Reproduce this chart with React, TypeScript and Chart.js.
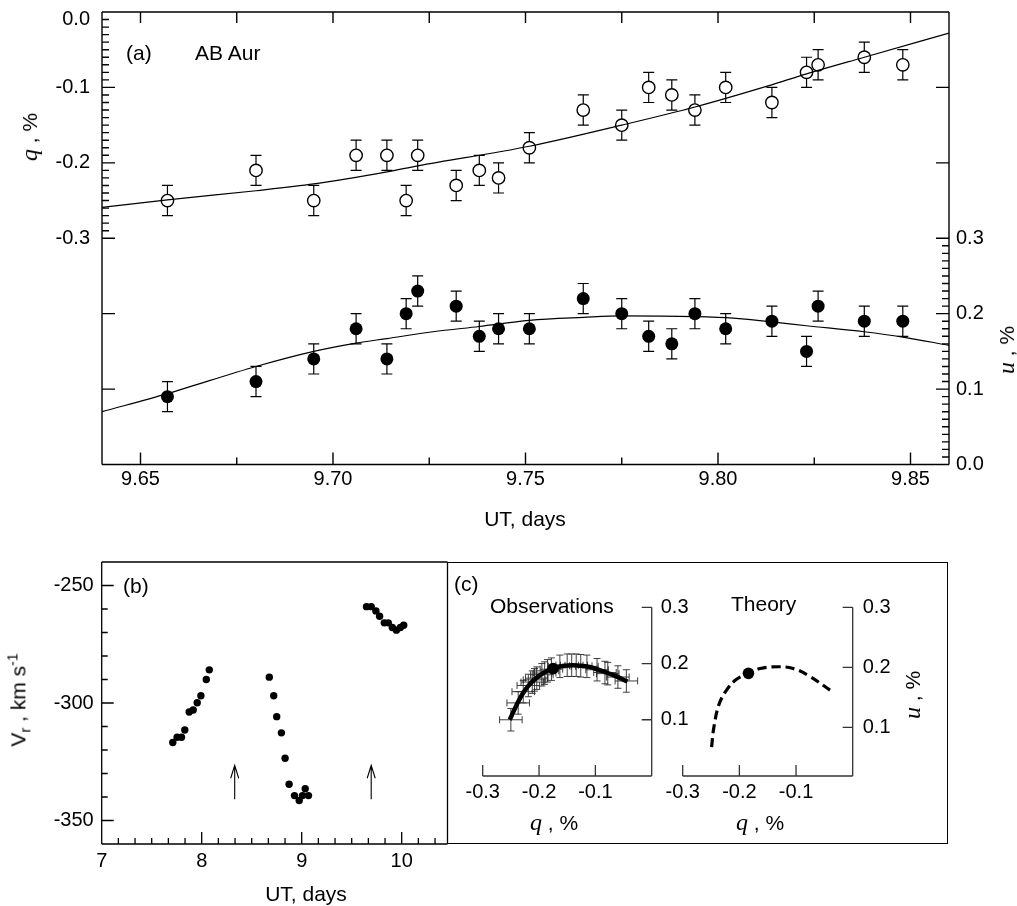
import { useEffect, useRef } from 'react';
import { Chart, registerables } from 'chart.js';
Chart.register(...registerables);

const W = 1017;
const H = 906;

// ---------------- Panel (a): AB Aur polarimetry ----------------
const obsTimes = [9.657, 9.680, 9.695, 9.706, 9.714, 9.719, 9.722, 9.732, 9.738, 9.743, 9.751, 9.765, 9.775, 9.782, 9.788, 9.794, 9.802, 9.814, 9.823, 9.826, 9.838, 9.848];
const qValues = [-0.25, -0.21, -0.25, -0.19, -0.19, -0.25, -0.19, -0.23, -0.21, -0.22, -0.18, -0.13, -0.15, -0.10, -0.11, -0.13, -0.10, -0.12, -0.08, -0.07, -0.06, -0.07];
const uValues = [0.09, 0.11, 0.14, 0.18, 0.14, 0.20, 0.23, 0.21, 0.17, 0.18, 0.18, 0.22, 0.20, 0.17, 0.16, 0.20, 0.18, 0.19, 0.15, 0.21, 0.19, 0.19];
const polError = 0.02;

const qFitTimes = [9.64, 9.657, 9.68, 9.695, 9.714, 9.722, 9.751, 9.775, 9.794, 9.813, 9.823, 9.838, 9.86];
const qFitValues = [-0.259, -0.249, -0.237, -0.228, -0.212, -0.204, -0.178, -0.150, -0.126, -0.098, -0.082, -0.060, -0.028];
const uFitTimes = [9.64, 9.657, 9.68, 9.695, 9.706, 9.714, 9.726, 9.738, 9.751, 9.765, 9.775, 9.794, 9.804, 9.814, 9.823, 9.838, 9.848, 9.86];
const uFitValues = [0.070, 0.094, 0.130, 0.150, 0.161, 0.167, 0.176, 0.183, 0.191, 0.195, 0.197, 0.196, 0.194, 0.189, 0.184, 0.176, 0.169, 0.158];

const aTimeLabels = [9.65, 9.70, 9.75, 9.80, 9.85];
const aTimeMinor = [9.675, 9.725, 9.775, 9.825];
const qLabels = [0, -0.1, -0.2, -0.3];
const uLabels = [0, 0.1, 0.2, 0.3];

// ---------------- Panel (b): radial velocity ----------------
const vrTimes = [7.711, 7.754, 7.798, 7.831, 7.875, 7.915, 7.955, 7.992, 8.046, 8.076,
  8.676, 8.72, 8.75, 8.797, 8.834, 8.874, 8.928, 8.975, 9.008, 9.035, 9.068,
  9.648, 9.695, 9.742, 9.779, 9.826, 9.866, 9.906, 9.947, 9.987, 10.02];
const vrValues = [-316.8, -314.6, -314.6, -311.5, -303.8, -303.0, -299.9, -296.9, -290.0, -285.9,
  -289.0, -296.9, -305.8, -312.7, -323.5, -334.6, -339.4, -341.5, -339.4, -336.5, -339.4,
  -259.0, -259.0, -260.8, -263.1, -265.9, -265.9, -267.9, -269.0, -267.9, -266.9];
const arrowTimes = [8.33, 9.695];
const arrowFrom = -341;
const arrowTo = -326.5;
const bTimeLabels = [7, 8, 9, 10];
const bVrLabels = [-250, -300, -350];

// ---------------- Panel (c): q-u plane ----------------
const obsQ = [-0.250, -0.237, -0.228, -0.219, -0.212, -0.208, -0.204, -0.195, -0.190, -0.185, -0.178, -0.163, -0.150, -0.142, -0.134, -0.126, -0.115, -0.097, -0.083, -0.078, -0.060, -0.045];
const obsU = [0.100, 0.130, 0.150, 0.161, 0.167, 0.171, 0.174, 0.180, 0.183, 0.187, 0.190, 0.195, 0.197, 0.197, 0.197, 0.196, 0.195, 0.189, 0.184, 0.182, 0.176, 0.169];
const obsCurveQ = [-0.252, -0.240, -0.228, -0.215, -0.200, -0.185, -0.170, -0.155, -0.140, -0.125, -0.110, -0.095, -0.080, -0.065, -0.043];
const obsCurveU = [0.100, 0.126, 0.148, 0.165, 0.178, 0.187, 0.193, 0.196, 0.197, 0.196, 0.194, 0.189, 0.184, 0.178, 0.168];
const obsMarkQ = [-0.175];
const obsMarkU = [0.191];
const theoryQ = [-0.249, -0.245, -0.236, -0.222, -0.205, -0.184, -0.163, -0.131, -0.105, -0.079, -0.040];
const theoryU = [0.067, 0.100, 0.138, 0.163, 0.180, 0.190, 0.198, 0.201, 0.198, 0.187, 0.162];
const theoryMarkQ = [-0.184];
const theoryMarkU = [0.190];
const cQLabels = [-0.3, -0.2, -0.1];
const cULabels = [0.1, 0.2, 0.3];

// ---------------- helpers ----------------
const SANS = "'Liberation Sans', Arial, Helvetica, sans-serif";
const SERIF = "'Liberation Serif', 'Times New Roman', serif";

const pts = (xs: number[], ys: number[]) => xs.map((x, i) => ({ x, y: ys[i] }));

function steps(from: number, to: number, step: number) {
  const out: number[] = [];
  const n = Math.round((to - from) / step);
  for (let i = 0; i <= n; i++) out.push(+(from + i * step).toFixed(6));
  return out;
}

// chart area box (l,t,r,b) in page pixels, minus the room reserved for each axis
function pad(l: number, t: number, r: number, b: number, room: { l?: number; t?: number; r?: number; b?: number }) {
  return { left: l - (room.l || 0), top: t - (room.t || 0), right: W - r - (room.r || 0), bottom: H - b - (room.b || 0) };
}

type TickSet = { scale: string; side: 'left' | 'right' | 'top' | 'bottom'; values: number[]; len: number };

function framePlugin(sides: string[], ticks: TickSet[], color = '#000', lw = 1.3) {
  return {
    id: 'frame',
    afterDatasetsDraw(chart: any) {
      const { ctx, chartArea: a } = chart;
      ctx.save();
      ctx.strokeStyle = color;
      ctx.lineWidth = lw;
      ctx.beginPath();
      if (sides.includes('left')) { ctx.moveTo(a.left, a.top); ctx.lineTo(a.left, a.bottom); }
      if (sides.includes('right')) { ctx.moveTo(a.right, a.top); ctx.lineTo(a.right, a.bottom); }
      if (sides.includes('top')) { ctx.moveTo(a.left, a.top); ctx.lineTo(a.right, a.top); }
      if (sides.includes('bottom')) { ctx.moveTo(a.left, a.bottom); ctx.lineTo(a.right, a.bottom); }
      for (const t of ticks) {
        const sc = chart.scales[t.scale];
        for (const v of t.values) {
          const p = sc.getPixelForValue(v);
          if (t.side === 'left') { ctx.moveTo(a.left, p); ctx.lineTo(a.left + t.len, p); }
          if (t.side === 'right') { ctx.moveTo(a.right, p); ctx.lineTo(a.right - t.len, p); }
          if (t.side === 'top') { ctx.moveTo(p, a.top); ctx.lineTo(p, a.top + t.len); }
          if (t.side === 'bottom') { ctx.moveTo(p, a.bottom); ctx.lineTo(p, a.bottom - t.len); }
        }
      }
      ctx.stroke();
      ctx.restore();
    },
  };
}

const errorBarPlugin = {
  id: 'errorBars',
  beforeDatasetsDraw(chart: any) {
    const ctx = chart.ctx;
    chart.data.datasets.forEach((ds: any, i: number) => {
      const eb = ds.errorBars;
      if (!eb) return;
      const meta = chart.getDatasetMeta(i);
      const xs = chart.scales[meta.xAxisID];
      const ys = chart.scales[meta.yAxisID];
      ctx.save();
      ctx.strokeStyle = eb.color;
      ctx.lineWidth = eb.width;
      ctx.beginPath();
      ds.data.forEach((p: any) => {
        const px = xs.getPixelForValue(p.x);
        const py = ys.getPixelForValue(p.y);
        if (eb.yErr) {
          const y1 = ys.getPixelForValue(p.y - eb.yErr);
          const y2 = ys.getPixelForValue(p.y + eb.yErr);
          ctx.moveTo(px, y1); ctx.lineTo(px, y2);
          ctx.moveTo(px - eb.cap, y1); ctx.lineTo(px + eb.cap, y1);
          ctx.moveTo(px - eb.cap, y2); ctx.lineTo(px + eb.cap, y2);
        }
        if (eb.xErr) {
          const x1 = xs.getPixelForValue(p.x - eb.xErr);
          const x2 = xs.getPixelForValue(p.x + eb.xErr);
          ctx.moveTo(x1, py); ctx.lineTo(x2, py);
          ctx.moveTo(x1, py - eb.cap); ctx.lineTo(x1, py + eb.cap);
          ctx.moveTo(x2, py - eb.cap); ctx.lineTo(x2, py + eb.cap);
        }
      });
      ctx.stroke();
      ctx.restore();
    });
  },
};

const arrowPlugin = {
  id: 'arrows',
  afterDatasetsDraw(chart: any) {
    const { ctx, scales } = chart;
    ctx.save();
    ctx.strokeStyle = '#000';
    ctx.lineWidth = 1.1;
    ctx.beginPath();
    for (const t of arrowTimes) {
      const x = scales.x.getPixelForValue(t);
      const y1 = scales.y.getPixelForValue(arrowFrom);
      const y2 = scales.y.getPixelForValue(arrowTo);
      ctx.moveTo(x, y1); ctx.lineTo(x, y2);
      ctx.moveTo(x - 4, y2 + 13); ctx.lineTo(x, y2); ctx.lineTo(x + 4, y2 + 13);
    }
    ctx.stroke();
    ctx.restore();
  },
};

function axis(opts: any) {
  const { position, min, max, labels, fmt, padding, font, size } = opts;
  const horiz = position === 'top' || position === 'bottom';
  return {
    type: 'linear',
    position,
    min,
    max,
    grid: { display: false, drawTicks: false, tickLength: 0 },
    border: { display: false },
    ticks: {
      autoSkip: false,
      maxRotation: 0,
      minRotation: 0,
      padding,
      color: '#000',
      font: font || { family: SANS, size: 20 },
      callback: fmt,
    },
    afterBuildTicks: (s: any) => { s.ticks = labels.map((v: number) => ({ value: v })); },
    afterFit: (s: any) => {
      if (horiz) s.height = size; else s.width = size;
      s.paddingTop = 0; s.paddingBottom = 0; s.paddingLeft = 0; s.paddingRight = 0;
    },
  };
}

const baseOptions = (padding: any, scales: any) => ({
  responsive: false,
  animation: false as const,
  events: [] as any[],
  layout: { padding },
  plugins: { legend: { display: false }, tooltip: { enabled: false } },
  scales,
});

function makeA(canvas: HTMLCanvasElement) {
  return new Chart(canvas, {
    type: 'scatter',
    data: {
      datasets: [
        { data: pts(qFitTimes, qFitValues), yAxisID: 'yq', showLine: true, borderColor: '#000', borderWidth: 1.2, pointRadius: 0, cubicInterpolationMode: 'monotone' },
        { data: pts(uFitTimes, uFitValues), yAxisID: 'yu', showLine: true, borderColor: '#000', borderWidth: 1.2, pointRadius: 0, cubicInterpolationMode: 'monotone' },
        { data: pts(obsTimes, qValues), yAxisID: 'yq', pointRadius: 6.2, pointBackgroundColor: '#fff', pointBorderColor: '#000', pointBorderWidth: 1.4, errorBars: { yErr: polError, cap: 5.5, color: '#000', width: 1.2 } },
        { data: pts(obsTimes, uValues), yAxisID: 'yu', pointRadius: 6.5, pointBackgroundColor: '#000', pointBorderColor: '#000', pointBorderWidth: 0, errorBars: { yErr: polError, cap: 5.5, color: '#000', width: 1.2 } },
      ] as any,
    },
    options: baseOptions(pad(102, 12, 949, 464.5, { l: 90, r: 60, b: 40 }), {
      x: axis({ position: 'bottom', min: 9.64, max: 9.86, labels: aTimeLabels, fmt: (v: number) => v.toFixed(2), padding: 3, size: 40 }),
      yq: axis({
        position: 'left', min: -0.6, max: 0, labels: qLabels, padding: 12, size: 90,
        fmt: (v: number) => (v === 0 ? ['', '0.0'] : v.toFixed(1)),
        font: { family: SANS, size: 20, lineHeight: 0.75 },
      }),
      yu: axis({ position: 'right', min: 0, max: 0.6, labels: uLabels, fmt: (v: number) => v.toFixed(1), padding: 7, size: 60 }),
    }) as any,
    plugins: [
      errorBarPlugin,
      framePlugin(['left', 'right', 'top', 'bottom'], [
        { scale: 'x', side: 'top', values: [...aTimeLabels, ...aTimeMinor], len: 11 },
        { scale: 'x', side: 'bottom', values: aTimeLabels, len: 12 },
        { scale: 'x', side: 'bottom', values: aTimeMinor, len: 7 },
        { scale: 'yq', side: 'left', values: steps(-0.6, 0, 0.1), len: 13 },
        { scale: 'yq', side: 'left', values: steps(-0.3, 0, 0.01), len: 7 },
        { scale: 'yu', side: 'right', values: steps(0, 0.6, 0.1), len: 13 },
        { scale: 'yu', side: 'right', values: steps(0, 0.3, 0.01), len: 7 },
      ], '#000', 1.4),
    ] as any,
  });
}

function makeB(canvas: HTMLCanvasElement) {
  return new Chart(canvas, {
    type: 'scatter',
    data: {
      datasets: [
        { data: pts(vrTimes, vrValues), pointRadius: 3.7, pointBackgroundColor: '#000', pointBorderWidth: 0 },
      ] as any,
    },
    options: baseOptions(pad(101.7, 562, 447.5, 844, { l: 90, b: 40 }), {
      x: axis({ position: 'bottom', min: 7, max: 10.458, labels: bTimeLabels, fmt: (v: number) => String(v), padding: 5, size: 40 }),
      y: axis({ position: 'left', min: -360, max: -240, labels: bVrLabels, fmt: (v: number) => String(v), padding: 8, size: 90 }),
    }) as any,
    plugins: [
      arrowPlugin,
      framePlugin(['left', 'right', 'top', 'bottom'], [
        { scale: 'x', side: 'bottom', values: bTimeLabels, len: 12 },
        { scale: 'x', side: 'bottom', values: steps(7, 10.4, 1 / 6), len: 6 },
        { scale: 'y', side: 'left', values: bVrLabels, len: 12 },
        { scale: 'y', side: 'left', values: steps(-360, -240, 10), len: 6 },
      ], '#000', 1.3),
    ] as any,
  });
}

function makeObs(canvas: HTMLCanvasElement) {
  return new Chart(canvas, {
    type: 'scatter',
    data: {
      datasets: [
        { data: pts(obsMarkQ, obsMarkU), pointRadius: 5.8, pointBackgroundColor: '#000', pointBorderWidth: 0 },
        { data: pts(obsCurveQ, obsCurveU), showLine: true, borderColor: '#000', borderWidth: 4.5, pointRadius: 0, tension: 0.4 },
        { data: pts(obsQ, obsU), pointRadius: 0, errorBars: { yErr: polError, xErr: polError, cap: 3.5, color: '#2a2a2a', width: 0.9 } },
      ] as any,
    },
    options: baseOptions(pad(482.7, 607.3, 651.7, 776, { r: 45, b: 30 }), {
      x: axis({ position: 'bottom', min: -0.3, max: 0, labels: cQLabels, fmt: (v: number) => v.toFixed(1), padding: 4, size: 30 }),
      y: axis({ position: 'right', min: 0, max: 0.3, labels: cULabels, fmt: (v: number) => v.toFixed(1), padding: 9, size: 45 }),
    }) as any,
    plugins: [
      errorBarPlugin,
      framePlugin(['bottom', 'right'], [
        { scale: 'x', side: 'bottom', values: cQLabels, len: 11 },
        { scale: 'y', side: 'right', values: cULabels, len: 10 },
      ], '#333', 1.3),
    ] as any,
  });
}

function makeTheory(canvas: HTMLCanvasElement) {
  return new Chart(canvas, {
    type: 'scatter',
    data: {
      datasets: [
        { data: pts(theoryMarkQ, theoryMarkU), pointRadius: 5.8, pointBackgroundColor: '#000', pointBorderWidth: 0 },
        { data: pts(theoryQ, theoryU), showLine: true, borderColor: '#000', borderWidth: 3.2, borderDash: [9, 5], pointRadius: 0, tension: 0.4 },
      ] as any,
    },
    options: baseOptions(pad(682.7, 607.3, 852.7, 776, { r: 45, b: 30 }), {
      x: axis({ position: 'bottom', min: -0.3, max: 0, labels: cQLabels, fmt: (v: number) => v.toFixed(1), padding: 4, size: 30 }),
      y: axis({ position: 'right', min: 0.019, max: 0.3, labels: cULabels, fmt: (v: number) => v.toFixed(1), padding: 10, size: 45 }),
    }) as any,
    plugins: [
      framePlugin(['bottom', 'right'], [
        { scale: 'x', side: 'bottom', values: cQLabels, len: 11 },
        { scale: 'y', side: 'right', values: cULabels, len: 10 },
      ], '#333', 1.3),
    ] as any,
  });
}

const txt = (left: number, top: number, extra: any = {}): any => ({
  position: 'absolute', left, top, transform: 'translate(0,-50%)', whiteSpace: 'nowrap',
  fontFamily: SANS, fontSize: 21, color: '#000', lineHeight: 1, ...extra,
});
const centered = (cx: number, cy: number, extra: any = {}): any => ({
  position: 'absolute', left: cx, top: cy, transform: 'translate(-50%,-50%)', whiteSpace: 'nowrap',
  fontFamily: SANS, fontSize: 21, color: '#000', lineHeight: 1, ...extra,
});
const rotated = (cx: number, cy: number, extra: any = {}): any => ({
  position: 'absolute', left: cx, top: cy, transform: 'translate(-50%,-50%) rotate(-90deg)', whiteSpace: 'nowrap',
  fontFamily: SANS, fontSize: 21, color: '#000', lineHeight: 1, ...extra,
});
const ital = { fontFamily: SERIF, fontStyle: 'italic', fontSize: 24 };

export default function App() {
  const refA = useRef<HTMLCanvasElement>(null);
  const refB = useRef<HTMLCanvasElement>(null);
  const refO = useRef<HTMLCanvasElement>(null);
  const refT = useRef<HTMLCanvasElement>(null);

  useEffect(() => {
    const charts = [
      makeA(refA.current!),
      makeB(refB.current!),
      makeObs(refO.current!),
      makeTheory(refT.current!),
    ];
    return () => charts.forEach((c) => c.destroy());
  }, []);

  const cv: any = { position: 'absolute', left: 0, top: 0, width: W, height: H };

  return (
    <div style={{ position: 'absolute', left: 0, top: 0, width: W, height: H, background: '#fff', overflow: 'hidden' }}>
      <canvas ref={refA} width={W} height={H} style={cv} />
      <canvas ref={refB} width={W} height={H} style={cv} />
      <canvas ref={refO} width={W} height={H} style={cv} />
      <canvas ref={refT} width={W} height={H} style={cv} />
      <div style={{ position: 'absolute', left: 447, top: 562, width: 501, height: 282, border: '1.3px solid #000', boxSizing: 'border-box' }} />

      <div style={txt(126, 52)}>(a)</div>
      <div style={txt(195, 52)}>AB Aur</div>
      <div style={rotated(29, 137)}><span style={ital}>q</span> , %</div>
      <div style={rotated(1006, 350)}><span style={ital}>u</span> , %</div>
      <div style={centered(525, 518)}>UT, days</div>

      <div style={txt(123, 585)}>(b)</div>
      <div style={rotated(19, 700)}>V<sub style={{ fontSize: 15 }}>r</sub> , km s<sup style={{ fontSize: 14 }}>-1</sup></div>
      <div style={centered(306, 893)}>UT, days</div>

      <div style={txt(454, 583)}>(c)</div>
      <div style={txt(490, 605)}>Observations</div>
      <div style={txt(731, 603)}>Theory</div>
      <div style={centered(554, 822)}><span style={ital}>q</span> , %</div>
      <div style={centered(760, 822)}><span style={ital}>q</span> , %</div>
      <div style={rotated(912, 695)}><span style={ital}>u</span> , %</div>
    </div>
  );
}
